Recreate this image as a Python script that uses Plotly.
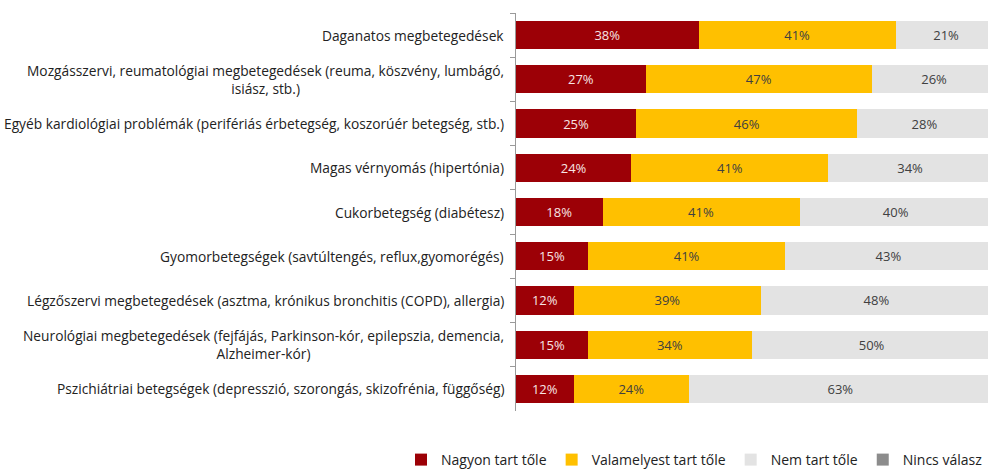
import plotly.graph_objects as go

categories = [
    "Daganatos megbetegedések",
    "Mozgásszervi, reumatológiai megbetegedések (reuma, köszvény, lumbágó,<br>isiász, stb.)",
    "Egyéb kardiológiai problémák (perifériás érbetegség, koszorúér betegség, stb.)",
    "Magas vérnyomás (hipertónia)",
    "Cukorbetegség (diabétesz)",
    "Gyomorbetegségek (savtúltengés, reflux,gyomorégés)",
    "Légzőszervi megbetegedések (asztma, krónikus bronchitis (COPD), allergia)",
    "Neurológiai megbetegedések (fejfájás, Parkinson-kór, epilepszia, demencia,<br>Alzheimer-kór)",
    "Pszichiátriai betegségek (depresszió, szorongás, skizofrénia, függőség)",
]

nagyon = [38, 27, 25, 24, 18, 15, 12, 15, 12]
valamelyest = [41, 47, 46, 41, 41, 41, 39, 34, 24]
nem = [21, 26, 28, 34, 40, 43, 48, 50, 63]
nincs = [0, 0, 1, 1, 1, 1, 1, 1, 1]

FONT = "Open Sans, Liberation Sans, sans-serif"

series = [
    ("Nagyon tart tőle", nagyon, "#9C0006", "#F7E4E4", True),
    ("Valamelyest tart tőle", valamelyest, "#FFC000", "#404040", True),
    ("Nem tart tőle", nem, "#E3E3E3", "#404040", True),
    ("Nincs válasz", nincs, "#8C8C8C", "#404040", False),
]

fig = go.Figure()
for name, vals, color, tcolor, show_text in series:
    fig.add_trace(
        go.Bar(
            y=categories,
            x=vals,
            name=name,
            orientation="h",
            marker=dict(color=color, line_width=0),
            text=[f"{v}%" for v in vals] if show_text else None,
            textposition="inside" if show_text else "none",
            insidetextanchor="middle",
            textfont=dict(color=tcolor, size=13, family=FONT),
            hoverinfo="skip",
        )
    )

# category labels as annotations so wrapped lines stay centred
for cat in categories:
    fig.add_annotation(
        x=0,
        xref="paper",
        y=cat,
        yref="y",
        text=cat,
        showarrow=False,
        xanchor="right",
        xshift=-10,
        align="center",
        font=dict(size=13.75, color="#222222", family=FONT),
    )

fig.update_layout(
    width=988,
    height=476,
    barmode="stack",
    bargap=0.36,
    margin=dict(l=516, r=0, t=13, b=55),
    paper_bgcolor="white",
    plot_bgcolor="white",
    font=dict(family=FONT, size=12, color="#222222"),
    uniformtext=dict(mode="show", minsize=9),
    xaxis=dict(
        range=[0, 98.2],
        showgrid=False,
        showticklabels=False,
        zeroline=False,
        showline=False,
        ticks="",
        fixedrange=True,
    ),
    yaxis=dict(
        autorange="reversed",
        showticklabels=False,
        showline=True,
        linecolor="#9A9A9A",
        linewidth=1,
        ticks="outside",
        ticklen=5,
        tickcolor="#9A9A9A",
        tickson="boundaries",
        showgrid=False,
        fixedrange=True,
    ),
    legend=dict(
        orientation="h",
        x=-0.203,
        xanchor="left",
        y=-0.083,
        yanchor="top",
        font=dict(size=14, color="#222222", family=FONT),
        itemwidth=30,
        traceorder="normal",
    ),
    showlegend=True,
)

# drop the default page margin so the figure sits flush with the window
fig.write_html(
    "out.html",
    config={"displayModeBar": False},
    post_script="document.body.style.margin='0';document.body.style.overflow='hidden';",
)
